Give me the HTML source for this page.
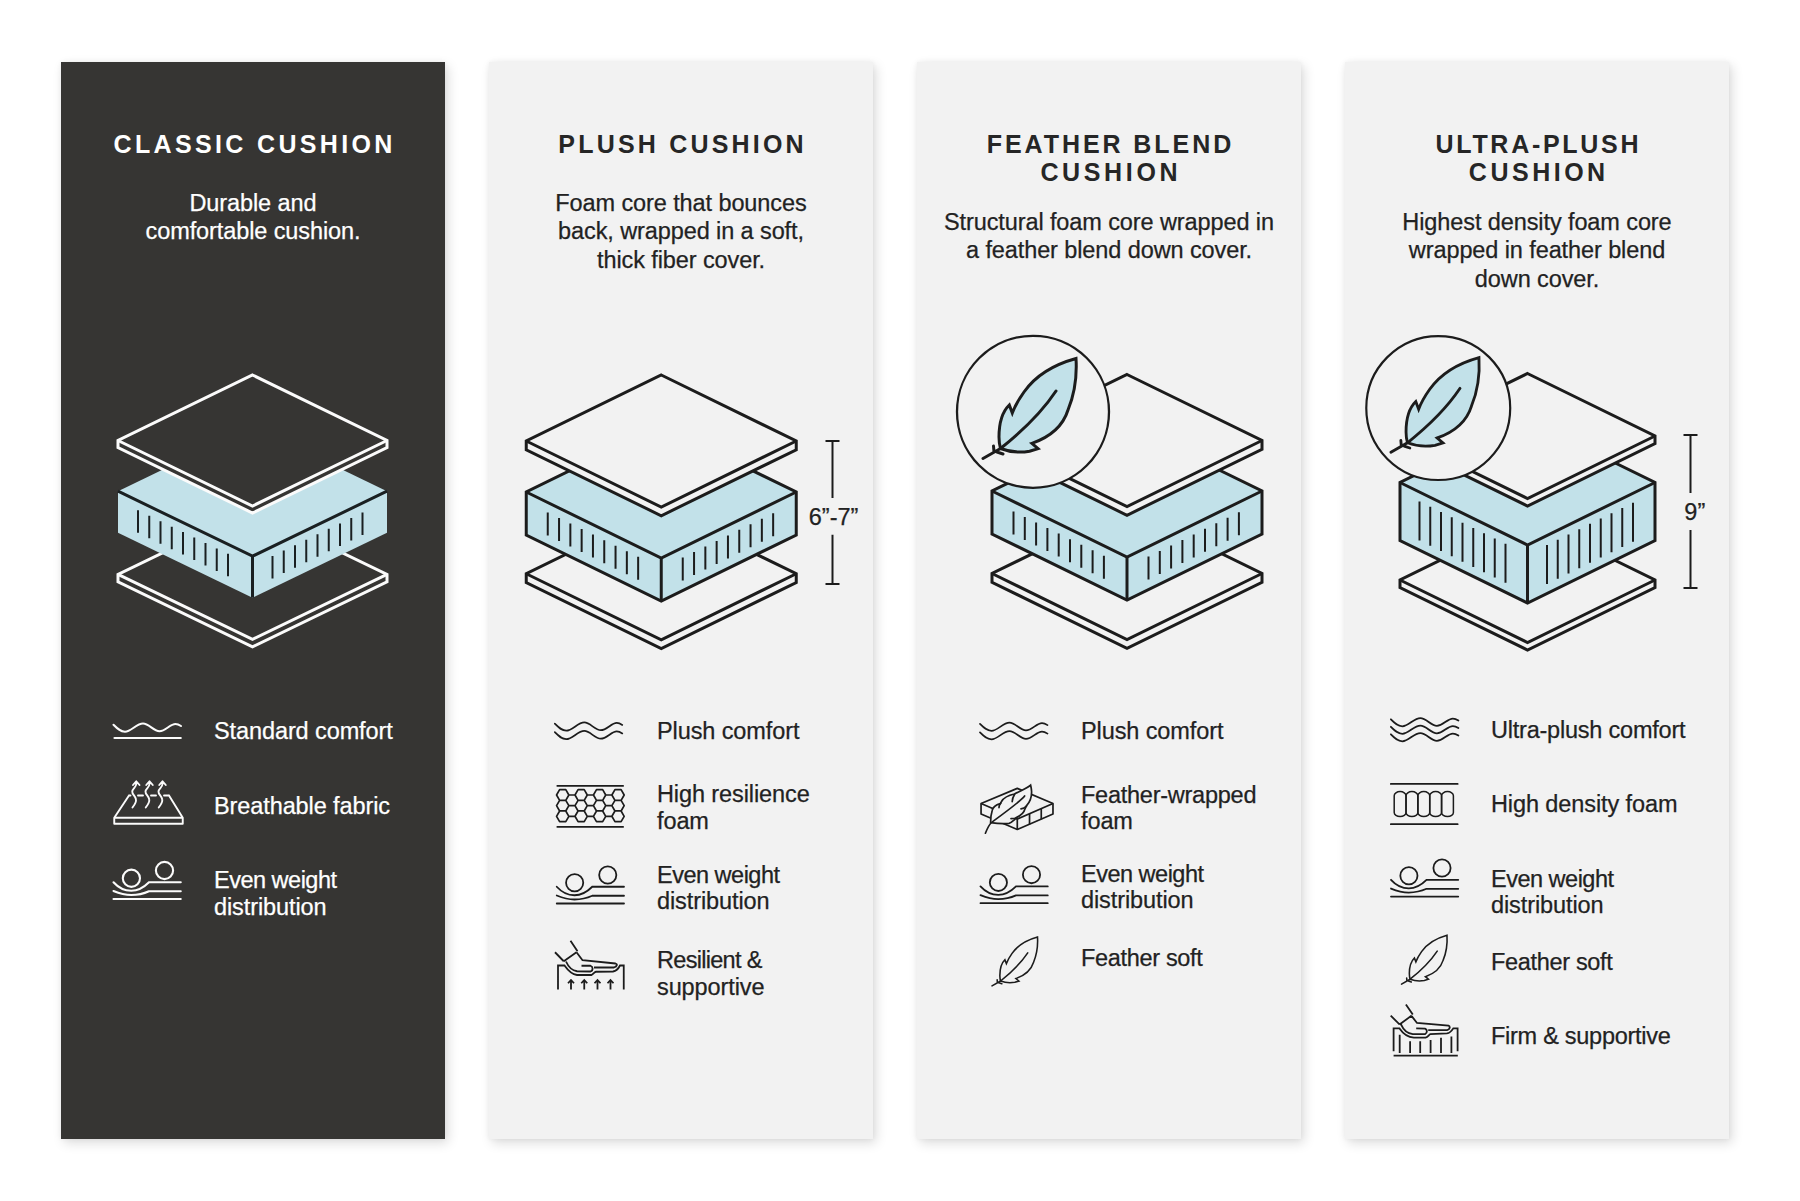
<!DOCTYPE html>
<html><head><meta charset="utf-8"><style>
html,body{margin:0;padding:0;}
body{width:1800px;height:1201px;position:relative;overflow:hidden;background:#ffffff;font-family:"Liberation Sans",sans-serif;}
.c{position:absolute;top:62px;width:384px;height:1077px;box-shadow:0 0 5px rgba(0,0,0,0.05),3px 4px 11px rgba(0,0,0,0.14);}
svg{position:absolute;left:0;top:0;}
.t{position:absolute;width:384px;text-align:center;font-weight:bold;font-size:25px;line-height:28px;letter-spacing:3px;text-indent:3px;white-space:nowrap;}
.d{position:absolute;width:384px;text-align:center;font-size:23.5px;line-height:28.5px;letter-spacing:-0.1px;text-indent:-0.1px;white-space:nowrap;-webkit-text-stroke:0.25px currentColor;}
.l{position:absolute;font-size:23.5px;line-height:26.5px;letter-spacing:-0.1px;white-space:nowrap;-webkit-text-stroke:0.25px currentColor;}
</style></head><body>
<div class="c" style="left:61px;background:#363533"></div><div class="c" style="left:489px;background:#f2f2f2"></div><div class="c" style="left:917px;background:#f2f2f2"></div><div class="c" style="left:1345px;background:#f2f2f2"></div>
<svg width="1800" height="1201" viewBox="0 0 1800 1201" font-family="Liberation Sans, sans-serif">
<polygon points="252.5,509.4 387,574.4 387,581.9 252.5,646.9 118,581.9 118,574.4" fill="#363533" stroke="#fbfbfb" stroke-width="3" stroke-linejoin="miter"/><polyline points="118,574.4 252.5,639.4 387,574.4" fill="none" stroke="#fbfbfb" stroke-width="3" stroke-linejoin="miter"/><polygon points="252.5,426.2 387,491.2 387,532.7 252.5,597.7 118,532.7 118,491.2" fill="#c2e1e9" stroke="none" stroke-width="3" stroke-linejoin="miter"/><polyline points="118,491.2 252.5,556.2 387,491.2" fill="none" stroke="#1a2022" stroke-width="3" stroke-linejoin="miter"/><line x1="252.5" y1="556.2" x2="252.5" y2="597.7" stroke="#1a2022" stroke-width="3"/><path d="M138,510.37V532.87M272.5,556.03V578.53M149.25,515.8V538.3M283.75,550.6V573.1M160.5,521.24V543.74M295,545.16V567.66M171.75,526.68V549.18M306.25,539.72V562.22M183,532.11V554.61M317.5,534.29V556.79M194.25,537.55V560.05M328.75,528.85V551.35M205.5,542.99V565.49M340,523.41V545.91M216.75,548.42V570.92M351.25,517.98V540.48M228,553.86V576.36M362.5,512.54V535.04" stroke="#1a2022" stroke-width="2" fill="none"/><polygon points="252.5,375 387,440.5 387,447.5 252.5,513 118,447.5 118,440.5" fill="#363533" stroke="#fbfbfb" stroke-width="3" stroke-linejoin="miter"/><polyline points="118,440.5 252.5,506 387,440.5" fill="none" stroke="#fbfbfb" stroke-width="3" stroke-linejoin="miter"/><polygon points="661.25,507.75 796.25,573.75 796.25,582.5 661.25,648.5 526.25,582.5 526.25,573.75" fill="#f2f2f2" stroke="#1c1c1c" stroke-width="3" stroke-linejoin="miter"/><polyline points="526.25,573.75 661.25,639.75 796.25,573.75" fill="none" stroke="#1c1c1c" stroke-width="3" stroke-linejoin="miter"/><polygon points="661.25,426 796.25,492 796.25,535 661.25,601 526.25,535 526.25,492" fill="#c2e1e9" stroke="#1c1c1c" stroke-width="3" stroke-linejoin="miter"/><polyline points="526.25,492 661.25,558 796.25,492" fill="none" stroke="#1c1c1c" stroke-width="3" stroke-linejoin="miter"/><line x1="661.25" y1="558" x2="661.25" y2="601" stroke="#1c1c1c" stroke-width="3"/><path d="M547.75,512.51V535.51M682.75,557.49V580.49M559.05,518.04V541.04M694.05,551.96V574.96M570.35,523.56V546.56M705.35,546.44V569.44M581.65,529.08V552.08M716.65,540.92V563.92M592.95,534.61V557.61M727.95,535.39V558.39M604.25,540.13V563.13M739.25,529.87V552.87M615.55,545.66V568.66M750.55,524.34V547.34M626.85,551.18V574.18M761.85,518.82V541.82M638.15,556.71V579.71M773.15,513.29V536.29" stroke="#1c1c1c" stroke-width="2" fill="none"/><polygon points="661.25,375 796.25,441 796.25,449.75 661.25,515.75 526.25,449.75 526.25,441" fill="#f2f2f2" stroke="#1c1c1c" stroke-width="3" stroke-linejoin="miter"/><polyline points="526.25,441 661.25,507 796.25,441" fill="none" stroke="#1c1c1c" stroke-width="3" stroke-linejoin="miter"/><path d="M825.5,441H839.5M832.5,441V497.9M832.5,534.7V583.9M825.5,583.9H839.5" stroke="#1c1c1c" stroke-width="2" fill="none"/><text x="833.6" y="524.9" text-anchor="middle" font-size="23.5" fill="#222222" stroke="#222222" stroke-width="0.25">6”-7”</text><polygon points="1127,507.5 1262,573.5 1262,582.25 1127,648.25 992,582.25 992,573.5" fill="#f2f2f2" stroke="#1c1c1c" stroke-width="3" stroke-linejoin="miter"/><polyline points="992,573.5 1127,639.5 1262,573.5" fill="none" stroke="#1c1c1c" stroke-width="3" stroke-linejoin="miter"/><polygon points="1127,425 1262,491 1262,534 1127,600 992,534 992,491" fill="#c2e1e9" stroke="#1c1c1c" stroke-width="3" stroke-linejoin="miter"/><polyline points="992,491 1127,557 1262,491" fill="none" stroke="#1c1c1c" stroke-width="3" stroke-linejoin="miter"/><line x1="1127" y1="557" x2="1127" y2="600" stroke="#1c1c1c" stroke-width="3"/><path d="M1013.5,511.51V534.51M1148.5,556.49V579.49M1024.8,517.04V540.04M1159.8,550.96V573.96M1036.1,522.56V545.56M1171.1,545.44V568.44M1047.4,528.08V551.08M1182.4,539.92V562.92M1058.7,533.61V556.61M1193.7,534.39V557.39M1070,539.13V562.13M1205,528.87V551.87M1081.3,544.66V567.66M1216.3,523.34V546.34M1092.6,550.18V573.18M1227.6,517.82V540.82M1103.9,555.71V578.71M1238.9,512.29V535.29" stroke="#1c1c1c" stroke-width="2" fill="none"/><polygon points="1127,374.5 1262,440.5 1262,449.25 1127,515.25 992,449.25 992,440.5" fill="#f2f2f2" stroke="#1c1c1c" stroke-width="3" stroke-linejoin="miter"/><polyline points="992,440.5 1127,506.5 1262,440.5" fill="none" stroke="#1c1c1c" stroke-width="3" stroke-linejoin="miter"/><circle cx="1033" cy="411.8" r="76" fill="#f2f2f2" stroke="#1c1c1c" stroke-width="2.3"/><path d="M1076,358.5 C1056,364 1036,375 1024,392 C1019,399 1015,406 1012.3,413 L1009.3,405 C1001,413 999,425 999,437 C999,441 999.5,445 1000.5,448.5 C1012,453 1022,452.5 1029.6,451.2 L1038,448.6 L1031.9,443.4 C1050,437 1063,426 1068,410 C1075,393 1077,375 1076,358.5 Z" fill="#c2e1e9" stroke="#1c1c1c" stroke-width="3" stroke-linejoin="miter"/><path d="M1056,391 C1040,415 1020,433 1000.5,448.5 M1000.5,448.5 L983,458.5 M993.5,446 L994,452 M997,452 L1003,454" fill="none" stroke="#1c1c1c" stroke-width="3" stroke-linecap="round"/><polygon points="1527.5,517.5 1655,580 1655,587.5 1527.5,650 1400,587.5 1400,580" fill="#f2f2f2" stroke="#1c1c1c" stroke-width="3" stroke-linejoin="miter"/><polyline points="1400,580 1527.5,642.5 1655,580" fill="none" stroke="#1c1c1c" stroke-width="3" stroke-linejoin="miter"/><polygon points="1527.5,420 1655,482.5 1655,540.5 1527.5,603 1400,540.5 1400,482.5" fill="#c2e1e9" stroke="#1c1c1c" stroke-width="3" stroke-linejoin="miter"/><polyline points="1400,482.5 1527.5,545 1655,482.5" fill="none" stroke="#1c1c1c" stroke-width="3" stroke-linejoin="miter"/><line x1="1527.5" y1="545" x2="1527.5" y2="603" stroke="#1c1c1c" stroke-width="3"/><path d="M1419.5,501.56V540.56M1547,544.94V583.94M1430.25,506.83V545.83M1557.75,539.67V578.67M1441,512.1V551.1M1568.5,534.4V573.4M1451.75,517.37V556.37M1579.25,529.13V568.13M1462.5,522.64V561.64M1590,523.86V562.86M1473.25,527.91V566.91M1600.75,518.59V557.59M1484,533.18V572.18M1611.5,513.32V552.32M1494.75,538.45V577.45M1622.25,508.05V547.05M1505.5,543.72V582.72M1633,502.78V541.78" stroke="#1c1c1c" stroke-width="2" fill="none"/><polygon points="1527.5,373.5 1655,436 1655,443.5 1527.5,506 1400,443.5 1400,436" fill="#f2f2f2" stroke="#1c1c1c" stroke-width="3" stroke-linejoin="miter"/><polyline points="1400,436 1527.5,498.5 1655,436" fill="none" stroke="#1c1c1c" stroke-width="3" stroke-linejoin="miter"/><g transform="translate(1438.25,407.75) scale(0.947) translate(-1033,-411.5)"><circle cx="1033" cy="411.8" r="76" fill="#f2f2f2" stroke="#1c1c1c" stroke-width="2.3"/><path d="M1076,358.5 C1056,364 1036,375 1024,392 C1019,399 1015,406 1012.3,413 L1009.3,405 C1001,413 999,425 999,437 C999,441 999.5,445 1000.5,448.5 C1012,453 1022,452.5 1029.6,451.2 L1038,448.6 L1031.9,443.4 C1050,437 1063,426 1068,410 C1075,393 1077,375 1076,358.5 Z" fill="#c2e1e9" stroke="#1c1c1c" stroke-width="3" stroke-linejoin="miter"/><path d="M1056,391 C1040,415 1020,433 1000.5,448.5 M1000.5,448.5 L983,458.5 M993.5,446 L994,452 M997,452 L1003,454" fill="none" stroke="#1c1c1c" stroke-width="3" stroke-linecap="round"/></g><path d="M1683.5,434.9H1697.5M1690.5,434.9V493.1M1690.5,530.1V588M1683.5,588H1697.5" stroke="#1c1c1c" stroke-width="2" fill="none"/><text x="1694.8" y="520.1" text-anchor="middle" font-size="23.5" fill="#222222" stroke="#222222" stroke-width="0.25">9”</text><path d="M113.5,724.75c4,4 7,7 11.5,7 c6,0 11.5,-8.25 18,-8.25 c6,0 10.5,7.75 16.5,7.75 c6,0 10.5,-7.25 16,-7.25 c2.5,0 4,1 5.5,2" fill="none" stroke="#fbfbfb" stroke-width="2.1" stroke-linecap="round"/><path d="M114.5,738H180.75" stroke="#fbfbfb" stroke-width="2.2" stroke-linecap="round"/><path d="M129,795.5 L114.25,817.75 L182.75,817.75 L169,795.5 M114.25,817.75 V823.75 H182.75 V817.75 M129,795.5 H130.5 M138,795.5 H143 M151,795.5 H156 M164,795.5 H169 M132.5,807.5 C134.5,805 136.5,802.5 136,799.5 C135.5,796 132,794.5 132.25,791.5 C132.5,788.5 136,787.5 136.25,784 L136.25,781.5 M133,785 L136.25,781.25 L139.5,785 M145.75,807.5 C147.75,805 149.75,802.5 149.25,799.5 C148.75,796 145.25,794.5 145.5,791.5 C145.75,788.5 149.25,787.5 149.5,784 L149.5,781.5 M146.25,785 L149.5,781.25 L152.75,785 M158.75,807.5 C160.75,805 162.75,802.5 162.25,799.5 C161.75,796 158.25,794.5 158.5,791.5 C158.75,788.5 162.25,787.5 162.5,784 L162.5,781.5 M159.25,785 L162.5,781.25 L165.75,785" fill="none" stroke="#fbfbfb" stroke-width="1.9" stroke-linecap="round" stroke-linejoin="round"/><g transform="translate(113.5,882.25)" fill="none" stroke="#fbfbfb" stroke-width="2.1"><circle cx="17.9" cy="-4" r="8.6"/><circle cx="51" cy="-11.75" r="8.6"/><path d="M0,0 C5,5.5 11,8.5 17.75,8.5 C24.5,8.5 30.5,5 35.5,0 H67.25 M0,8.75 C6,11.25 12,12.75 17.75,12.75 C24,12.75 30,11.5 35.5,9 H67.25 M0,16.75 H67.25" stroke-linecap="round"/></g><path d="M554.8,723.7c4,4 7,7 11.5,7 c6,0 11.5,-8.25 18,-8.25 c6,0 10.5,7.75 16.5,7.75 c6,0 10.5,-7.25 16,-7.25 c2.5,0 4,1 5.5,2M554.8,732.2c4,4 7,7 11.5,7 c6,0 11.5,-8.25 18,-8.25 c6,0 10.5,7.75 16.5,7.75 c6,0 10.5,-7.25 16,-7.25 c2.5,0 4,1 5.5,2" fill="none" stroke="#1c1c1c" stroke-width="1.7" stroke-linecap="round"/><path d="M556.6,785.9h67.2M556.6,826.8h67.2M568.85,795 L565.78,800.33 L559.62,800.33 L556.55,795 L559.62,789.67 L565.78,789.67ZM568.85,805.65 L565.78,810.98 L559.62,810.98 L556.55,805.65 L559.62,800.32 L565.78,800.32ZM568.85,816.3 L565.78,821.63 L559.62,821.63 L556.55,816.3 L559.62,810.97 L565.78,810.97ZM578.07,800.35 L575,805.68 L568.85,805.68 L565.77,800.35 L568.85,795.02 L575,795.02ZM578.07,811 L575,816.33 L568.85,816.33 L565.77,811 L568.85,805.67 L575,805.67ZM587.29,795 L584.22,800.33 L578.07,800.33 L574.99,795 L578.07,789.67 L584.22,789.67ZM587.29,805.65 L584.22,810.98 L578.07,810.98 L574.99,805.65 L578.07,800.32 L584.22,800.32ZM587.29,816.3 L584.22,821.63 L578.07,821.63 L574.99,816.3 L578.07,810.97 L584.22,810.97ZM596.51,800.35 L593.44,805.68 L587.28,805.68 L584.21,800.35 L587.28,795.02 L593.44,795.02ZM596.51,811 L593.44,816.33 L587.28,816.33 L584.21,811 L587.28,805.67 L593.44,805.67ZM605.73,795 L602.66,800.33 L596.5,800.33 L593.43,795 L596.5,789.67 L602.66,789.67ZM605.73,805.65 L602.66,810.98 L596.5,810.98 L593.43,805.65 L596.5,800.32 L602.66,800.32ZM605.73,816.3 L602.66,821.63 L596.5,821.63 L593.43,816.3 L596.5,810.97 L602.66,810.97ZM614.95,800.35 L611.88,805.68 L605.73,805.68 L602.65,800.35 L605.73,795.02 L611.88,795.02ZM614.95,811 L611.88,816.33 L605.73,816.33 L602.65,811 L605.73,805.67 L611.88,805.67ZM624.17,795 L621.1,800.33 L614.95,800.33 L611.87,795 L614.95,789.67 L621.1,789.67ZM624.17,805.65 L621.1,810.98 L614.95,810.98 L611.87,805.65 L614.95,800.32 L621.1,800.32ZM624.17,816.3 L621.1,821.63 L614.95,821.63 L611.87,816.3 L614.95,810.97 L621.1,810.97Z" fill="none" stroke="#1c1c1c" stroke-width="1.7" stroke-linejoin="round"/><g transform="translate(556.75,886.75)" fill="none" stroke="#1c1c1c" stroke-width="1.8"><circle cx="17.9" cy="-4" r="8.6"/><circle cx="51" cy="-11.75" r="8.6"/><path d="M0,0 C5,5.5 11,8.5 17.75,8.5 C24.5,8.5 30.5,5 35.5,0 H67.25 M0,8.75 C6,11.25 12,12.75 17.75,12.75 C24,12.75 30,11.5 35.5,9 H67.25 M0,16.75 H67.25" stroke-linecap="round"/></g><path d="M555,952.25 L563.75,961.25 M570.5,940.75 L577.5,951.25 M563.75,961.25 L576.5,952.25 M576.5,952.25 L582.5,960.25 L615.5,963.5 C617.5,964 617.5,966.5 614,967.5 L594,967.5 M581.5,965.75 L590.5,965.75 C593,966.5 593.5,970.5 590.5,971.5 L577,971.25 C572,970.5 568,966 566,961.5 M558,989.5 L558,965.5 L564.5,965.5 C567,969 570,974 577,975 L591.5,975 C593.5,974 594.5,972 596,971.75 L613,971.5 C616,971 618.5,968.5 620,965.5 L623.75,965.5 L623.75,989.5 M571,989.5 V980 M568,983.25 L571,980 L574,983.25 M584.25,989.5 V980 M581.25,983.25 L584.25,980 L587.25,983.25 M597.5,989.5 V980 M594.5,983.25 L597.5,980 L600.5,983.25 M610.5,989.5 V980 M607.5,983.25 L610.5,980 L613.5,983.25" fill="none" stroke="#1c1c1c" stroke-width="1.8" stroke-linejoin="miter"/><path d="M980,723.9c4,4 7,7 11.5,7 c6,0 11.5,-8.25 18,-8.25 c6,0 10.5,7.75 16.5,7.75 c6,0 10.5,-7.25 16,-7.25 c2.5,0 4,1 5.5,2M980,732.4c4,4 7,7 11.5,7 c6,0 11.5,-8.25 18,-8.25 c6,0 10.5,7.75 16.5,7.75 c6,0 10.5,-7.25 16,-7.25 c2.5,0 4,1 5.5,2" fill="none" stroke="#1c1c1c" stroke-width="1.7" stroke-linecap="round"/><polygon points="981.06,803.57 1017.29,788.39 1052.98,803.57 1052.98,814.07 1017.29,829.52 981.06,814.07" fill="#f2f2f2" stroke="#1c1c1c" stroke-width="1.7" stroke-linejoin="round"/><polyline points="981.06,803.57 1017.29,819.02 1052.98,803.57" fill="none" stroke="#1c1c1c" stroke-width="1.7"/><path d="M1017.29,819.02V829.52 M1029.54,813.9V824.4 M1041.26,808.9V819.4" stroke="#1c1c1c" stroke-width="1.7"/><path d="M1030.6,785.2 C1027,788.6 1020,790.8 1014.5,794 C1010,795 1004,797 1001.5,801.5 L1000.2,803.6 C997,804.5 993,806.5 992.2,810.4 C991,814 990.6,818 990.6,822.6 C996,823.4 1004,823.8 1009,823.4 C1011,823 1013,821 1014.6,819.6 L1016.2,817.6 C1020,816 1024,813 1025,808.8 L1026.6,805.6 C1030,802 1031.6,797 1031.6,792 C1031.6,789 1031,787 1030.6,785.2 Z" fill="#f2f2f2" stroke="#1c1c1c" stroke-width="1.7"/><path d="M1014.5,794.5 C1013,797 1012.2,799 1012.2,801.6 M1000.8,803.2 C999.5,804.5 999,806 999,807.6 M1026.5,806 C1025,807.5 1023,808.5 1021,808.8 M1016,818 C1014.5,818.6 1012.5,818.6 1011,818.6 M1024.6,796 C1021,801 1003,814 991,822.8 M991,823 C989,825 987.5,828 985.4,833.2" fill="none" stroke="#1c1c1c" stroke-width="1.7" stroke-linecap="round"/><g transform="translate(980.5,886.4)" fill="none" stroke="#1c1c1c" stroke-width="1.8"><circle cx="17.9" cy="-4" r="8.6"/><circle cx="51" cy="-11.75" r="8.6"/><path d="M0,0 C5,5.5 11,8.5 17.75,8.5 C24.5,8.5 30.5,5 35.5,0 H67.25 M0,8.75 C6,11.25 12,12.75 17.75,12.75 C24,12.75 30,11.5 35.5,9 H67.25 M0,16.75 H67.25" stroke-linecap="round"/></g><g transform="translate(1037.5,937) scale(0.489) translate(-1076,-358.5)"><path d="M1076,358.5 C1056,364 1036,375 1024,392 C1019,399 1015,406 1012.3,413 L1009.3,405 C1001,413 999,425 999,437 C999,441 999.5,445 1000.5,448.5 C1012,453 1022,452.5 1029.6,451.2 L1038,448.6 L1031.9,443.4 C1050,437 1063,426 1068,410 C1075,393 1077,375 1076,358.5 Z" fill="none" stroke="#1c1c1c" stroke-width="3.2"/><path d="M1056,391 C1040,415 1020,433 1000.5,448.5 M1000.5,448.5 L983,458.5 M993.5,446 L994,452 M997,452 L1003,454" fill="none" stroke="#1c1c1c" stroke-width="3.2" stroke-linecap="round"/></g><path d="M1390.9,719.3c4,4 7,7 11.5,7 c6,0 11.5,-8.25 18,-8.25 c6,0 10.5,7.75 16.5,7.75 c6,0 10.5,-7.25 16,-7.25 c2.5,0 4,1 5.5,2M1390.9,726.8c4,4 7,7 11.5,7 c6,0 11.5,-8.25 18,-8.25 c6,0 10.5,7.75 16.5,7.75 c6,0 10.5,-7.25 16,-7.25 c2.5,0 4,1 5.5,2M1390.9,734.3c4,4 7,7 11.5,7 c6,0 11.5,-8.25 18,-8.25 c6,0 10.5,7.75 16.5,7.75 c6,0 10.5,-7.25 16,-7.25 c2.5,0 4,1 5.5,2" fill="none" stroke="#1c1c1c" stroke-width="1.8" stroke-linecap="round"/><path d="M1390.8,783.9H1457.7 M1390.8,824.2H1457.7" stroke="#1c1c1c" stroke-width="1.7" fill="none" stroke-linecap="round"/><rect x="1394.2" y="791.6" width="11.8" height="25" rx="5.9" ry="4.2" fill="none" stroke="#1c1c1c" stroke-width="1.5"/><rect x="1406.05" y="791.6" width="11.8" height="25" rx="5.9" ry="4.2" fill="none" stroke="#1c1c1c" stroke-width="1.5"/><rect x="1417.9" y="791.6" width="11.8" height="25" rx="5.9" ry="4.2" fill="none" stroke="#1c1c1c" stroke-width="1.5"/><rect x="1429.75" y="791.6" width="11.8" height="25" rx="5.9" ry="4.2" fill="none" stroke="#1c1c1c" stroke-width="1.5"/><rect x="1441.6" y="791.6" width="11.8" height="25" rx="5.9" ry="4.2" fill="none" stroke="#1c1c1c" stroke-width="1.5"/><g transform="translate(1391,879.8)" fill="none" stroke="#1c1c1c" stroke-width="1.8"><circle cx="17.9" cy="-4" r="8.6"/><circle cx="51" cy="-11.75" r="8.6"/><path d="M0,0 C5,5.5 11,8.5 17.75,8.5 C24.5,8.5 30.5,5 35.5,0 H67.25 M0,8.75 C6,11.25 12,12.75 17.75,12.75 C24,12.75 30,11.5 35.5,9 H67.25 M0,16.75 H67.25" stroke-linecap="round"/></g><g transform="translate(1447,935.2) scale(0.489) translate(-1076,-358.5)"><path d="M1076,358.5 C1056,364 1036,375 1024,392 C1019,399 1015,406 1012.3,413 L1009.3,405 C1001,413 999,425 999,437 C999,441 999.5,445 1000.5,448.5 C1012,453 1022,452.5 1029.6,451.2 L1038,448.6 L1031.9,443.4 C1050,437 1063,426 1068,410 C1075,393 1077,375 1076,358.5 Z" fill="none" stroke="#1c1c1c" stroke-width="3.2"/><path d="M1056,391 C1040,415 1020,433 1000.5,448.5 M1000.5,448.5 L983,458.5 M993.5,446 L994,452 M997,452 L1003,454" fill="none" stroke="#1c1c1c" stroke-width="3.2" stroke-linecap="round"/></g><path d="M1390.7,1015.6 L1399.5,1024.4 M1405.9,1004.4 L1412.8,1014.5 M1399.5,1024.4 L1411.7,1015.6 M1411.7,1016.1 L1417,1023 L1448.5,1025.7 C1450.5,1026.5 1450,1029.5 1447,1030.2 L1428.2,1030.2 M1416.2,1028.4 L1425,1028.6 C1427.5,1029.5 1427.5,1033 1425,1034.2 L1412.8,1034.2 C1407,1033.5 1403,1029 1401,1024.4 M1393.6,1051.3 L1393.6,1028.4 L1399.5,1028.4 C1402,1032 1406,1037 1413.9,1037.7 L1425.6,1037.7 C1428,1037 1429,1034.5 1430.4,1034.2 L1446.9,1033.4 C1450,1033 1452,1030.5 1453.3,1028.4 L1457.6,1028.4 L1457.6,1051.3 M1399.7,1034.8V1052.9 M1410.1,1041.2V1052.9 M1420.2,1041.2V1052.9 M1430.6,1040.1V1052.9 M1441,1037.7V1052.9 M1451.4,1036.4V1052.9 M1393.6,1055.6H1457.8" fill="none" stroke="#1c1c1c" stroke-width="1.8"/>
</svg>
<div class="t" style="left:61px;top:129.8px;color:#ffffff;letter-spacing:3.35px;text-indent:3.35px">CLASSIC CUSHION</div><div class="t" style="left:489px;top:129.8px;color:#262626;letter-spacing:3.2px;text-indent:3.2px">PLUSH CUSHION</div><div class="t" style="left:917px;top:129.8px;color:#262626;letter-spacing:2.93px;text-indent:2.93px">FEATHER BLEND</div><div class="t" style="left:917px;top:157.6px;color:#262626;letter-spacing:3.65px;text-indent:3.65px">CUSHION</div><div class="t" style="left:1345px;top:129.8px;color:#262626;letter-spacing:2.7px;text-indent:2.7px">ULTRA-PLUSH</div><div class="t" style="left:1345px;top:157.6px;color:#262626;letter-spacing:3.5px;text-indent:3.5px">CUSHION</div><div class="d" style="left:61px;top:188.6px;color:#ffffff">Durable and<br>comfortable cushion.</div><div class="d" style="left:489px;top:188.8px;color:#222222">Foam core that bounces<br>back, wrapped in a soft,<br>thick fiber cover.</div><div class="d" style="left:917px;top:207.8px;color:#222222">Structural foam core wrapped in<br>a feather blend down cover.</div><div class="d" style="left:1345px;top:207.8px;color:#222222">Highest density foam core<br>wrapped in feather blend<br>down cover.</div><div class="l" style="left:214px;top:718.13px;color:#ffffff;letter-spacing:-0.1px">Standard comfort</div><div class="l" style="left:214px;top:793.13px;color:#ffffff;letter-spacing:-0.1px">Breathable fabric</div><div class="l" style="left:214px;top:867.13px;color:#ffffff;letter-spacing:-0.5px">Even weight</div><div class="l" style="left:214px;top:893.63px;color:#ffffff;letter-spacing:-0.1px">distribution</div><div class="l" style="left:657px;top:718.33px;color:#222222;letter-spacing:-0.1px">Plush comfort</div><div class="l" style="left:657px;top:781.13px;color:#222222;letter-spacing:-0.1px">High resilience</div><div class="l" style="left:657px;top:807.63px;color:#222222;letter-spacing:-0.1px">foam</div><div class="l" style="left:657px;top:861.93px;color:#222222;letter-spacing:-0.5px">Even weight</div><div class="l" style="left:657px;top:888.43px;color:#222222;letter-spacing:-0.1px">distribution</div><div class="l" style="left:657px;top:947.13px;color:#222222;letter-spacing:-0.7px">Resilient &amp;</div><div class="l" style="left:657px;top:973.63px;color:#222222;letter-spacing:-0.1px">supportive</div><div class="l" style="left:1081px;top:718.33px;color:#222222;letter-spacing:-0.1px">Plush comfort</div><div class="l" style="left:1081px;top:781.53px;color:#222222;letter-spacing:-0.25px">Feather-wrapped</div><div class="l" style="left:1081px;top:808.03px;color:#222222;letter-spacing:-0.1px">foam</div><div class="l" style="left:1081px;top:860.83px;color:#222222;letter-spacing:-0.5px">Even weight</div><div class="l" style="left:1081px;top:887.33px;color:#222222;letter-spacing:-0.1px">distribution</div><div class="l" style="left:1081px;top:944.63px;color:#222222;letter-spacing:-0.33px">Feather soft</div><div class="l" style="left:1491px;top:716.73px;color:#222222;letter-spacing:-0.22px">Ultra-plush comfort</div><div class="l" style="left:1491px;top:790.73px;color:#222222;letter-spacing:-0.1px">High density foam</div><div class="l" style="left:1491px;top:865.53px;color:#222222;letter-spacing:-0.5px">Even weight</div><div class="l" style="left:1491px;top:892.03px;color:#222222;letter-spacing:-0.1px">distribution</div><div class="l" style="left:1491px;top:949.43px;color:#222222;letter-spacing:-0.33px">Feather soft</div><div class="l" style="left:1491px;top:1022.73px;color:#222222;letter-spacing:-0.27px">Firm &amp; supportive</div>
</body></html>
